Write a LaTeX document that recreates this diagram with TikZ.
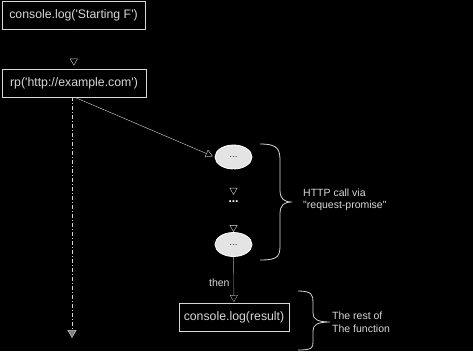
\documentclass[tikz,border=0pt]{standalone}
\usepackage{fontspec}
\newfontfamily\diagfont{Liberation Sans}
\usetikzlibrary{arrows.meta,shapes.geometric}

\begin{document}
\begin{tikzpicture}[x=1pt, y=-1pt,
    box/.style={draw=linegray, thick, minimum height=28pt, inner sep=0pt,
        text=linegray, font=\diagfont\fontsize{12.3}{14}\selectfont},
    blob/.style={ellipse, draw=white, thick, fill=blobgray, minimum width=37pt,
        minimum height=24pt, inner sep=0pt, text=darkgray,
        font=\diagfont\fontsize{10}{11}\selectfont},
    lbl/.style={text=linegray, align=left, inner sep=0pt,
        font=\diagfont\fontsize{10.5}{12.5}\selectfont},
    flow/.style={draw=black, -{Triangle[open, length=7pt, width=8pt, color=linegray]}},
    link/.style={draw=linegray, -{Triangle[open, length=7pt, width=8pt]}}]
    % Define colors
    \definecolor{linegray}{RGB}{215, 215, 215}
    \definecolor{blobgray}{RGB}{228, 228, 228}

    % Background
    \fill[black] (0,0) rectangle (473,351);

    % Statements of the function
    \node[box, minimum width=143pt] (start) at (73.5,15.5) {console.log('Starting F')};
    \node[box, minimum width=144pt] (rp) at (74,83) {rp('http://example.com')};
    \node[box, minimum width=110pt] (rest) at (234,317.5) {console.log(result)};

    % The HTTP call
    \node[blob] (req) at (233.5,157) {...};
    \node[text=white, inner sep=1pt, font=\diagfont\bfseries\fontsize{12}{12}\selectfont] (gap) at (233.5,202) {...};
    \node[blob] (resp) at (233.5,244.5) {...};
    \coordinate (done) at (72,338);

    % Connectors
    \draw[flow, shorten >=3pt] (start) -- (rp);
    \draw[flow, shorten >=5pt] (req) -- (gap);
    \draw[flow] (gap) -- (resp);
    \draw[link, shorten >=2pt] ([xshift=1pt]rp.south) -- (req.west);
    \draw[link, draw=gray!70, shorten >=1pt] (resp) -- node[lbl, left=4pt, pos=0.55] {then} (rest);
    \draw[draw=linegray, dash pattern=on 4pt off 2pt on 1pt off 2pt,
        -{Triangle[length=8pt, width=9pt, fill=gray, color=linegray]}] ([xshift=-2pt]rp.south) -- (done);

    % Braces
    \draw[linegray, thick] (260,144) .. controls (279,144) and (280,150) .. (280,162)
        -- (280,190) .. controls (280,199) and (284,202) .. (292,202)
        .. controls (284,202) and (280,205) .. (280,214) -- (280,244)
        .. controls (280,256) and (279,260) .. (260,260);
    \draw[linegray, thick] (298,291) .. controls (312,291) and (313,295) .. (313,302)
        -- (313,313) .. controls (313,319) and (317,322) .. (330,322)
        .. controls (317,322) and (313,325) .. (313,331) -- (313,342)
        .. controls (313,348) and (312,350) .. (298,350);

    % Brace labels
    \node[lbl, anchor=west] (httpnote) at (303,200) {HTTP call via\\"request-promise"};
    \node[lbl, anchor=west] (restnote) at (332,322) {The rest of\\The function};
\end{tikzpicture}
\end{document}
